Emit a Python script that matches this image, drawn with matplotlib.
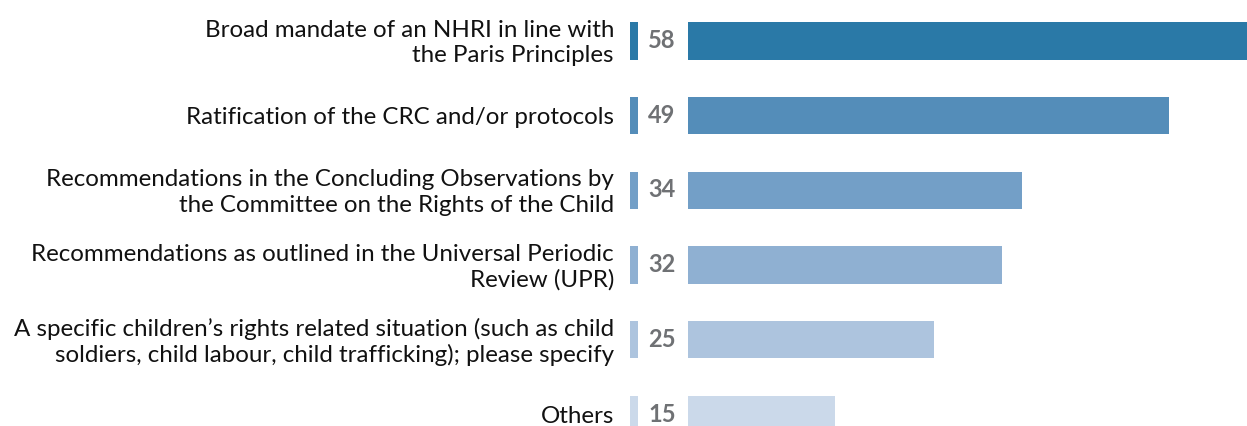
import matplotlib
matplotlib.use("Agg")
import matplotlib.pyplot as plt
import matplotlib.transforms as mtransforms

categories = [
    "Broad mandate of an NHRI in line with\nthe Paris Principles",
    "Ratification of the CRC and/or protocols",
    "Recommendations in the Concluding Observations by\nthe Committee on the Rights of the Child",
    "Recommendations as outlined in the Universal Periodic\nReview (UPR)",
    "A specific children\u2019s rights related situation (such as child\nsoldiers, child labour, child trafficking); please specify",
    "Others",
]
values = [58, 49, 34, 32, 25, 15]
colors = ["#2a79a7", "#548db9", "#739fc7", "#8fb0d2", "#adc4de", "#cbd9ea"]

W, H = 1247, 426
fig = plt.figure(figsize=(W / 100, H / 100), dpi=100)

pitch = 74.7
c0 = 41.0
y_top = -c0 / pitch
y_bot = (len(values) - 1) + (H - (c0 + (len(values) - 1) * pitch)) / pitch

bar_left = 688
px_per_unit = 9.82
ax = fig.add_axes([bar_left / W, 0, 1 - bar_left / W, 1])
ax.set_xlim(0, (W - bar_left) / px_per_unit)
ax.set_ylim(y_bot, y_top)
ypos = list(range(len(values)))
ax.barh(ypos, values, height=0.5, color=colors)
ax.axis("off")

mk = fig.add_axes([630 / W, 0, 7.5 / W, 1])
mk.set_xlim(0, 1)
mk.set_ylim(y_bot, y_top)
mk.barh(ypos, [1] * len(values), height=0.5, color=colors)
mk.axis("off")

trans = mtransforms.blended_transform_factory(fig.transFigure, ax.transData)
for y, v in zip(ypos, values):
    fig.text(662 / W, y + 7.0 / pitch, str(v), transform=trans, ha="center", va="baseline",
             fontsize=17, fontweight="bold", color="#6f7174", family="Lato")
for y, lab in zip(ypos, categories):
    fig.text(614 / W, y + 2.0 / pitch, lab, transform=trans, ha="right", va="center",
             fontsize=17.4, color="#111111", family="Lato", linespacing=1.25)

fig.savefig("out.png", dpi=100)
